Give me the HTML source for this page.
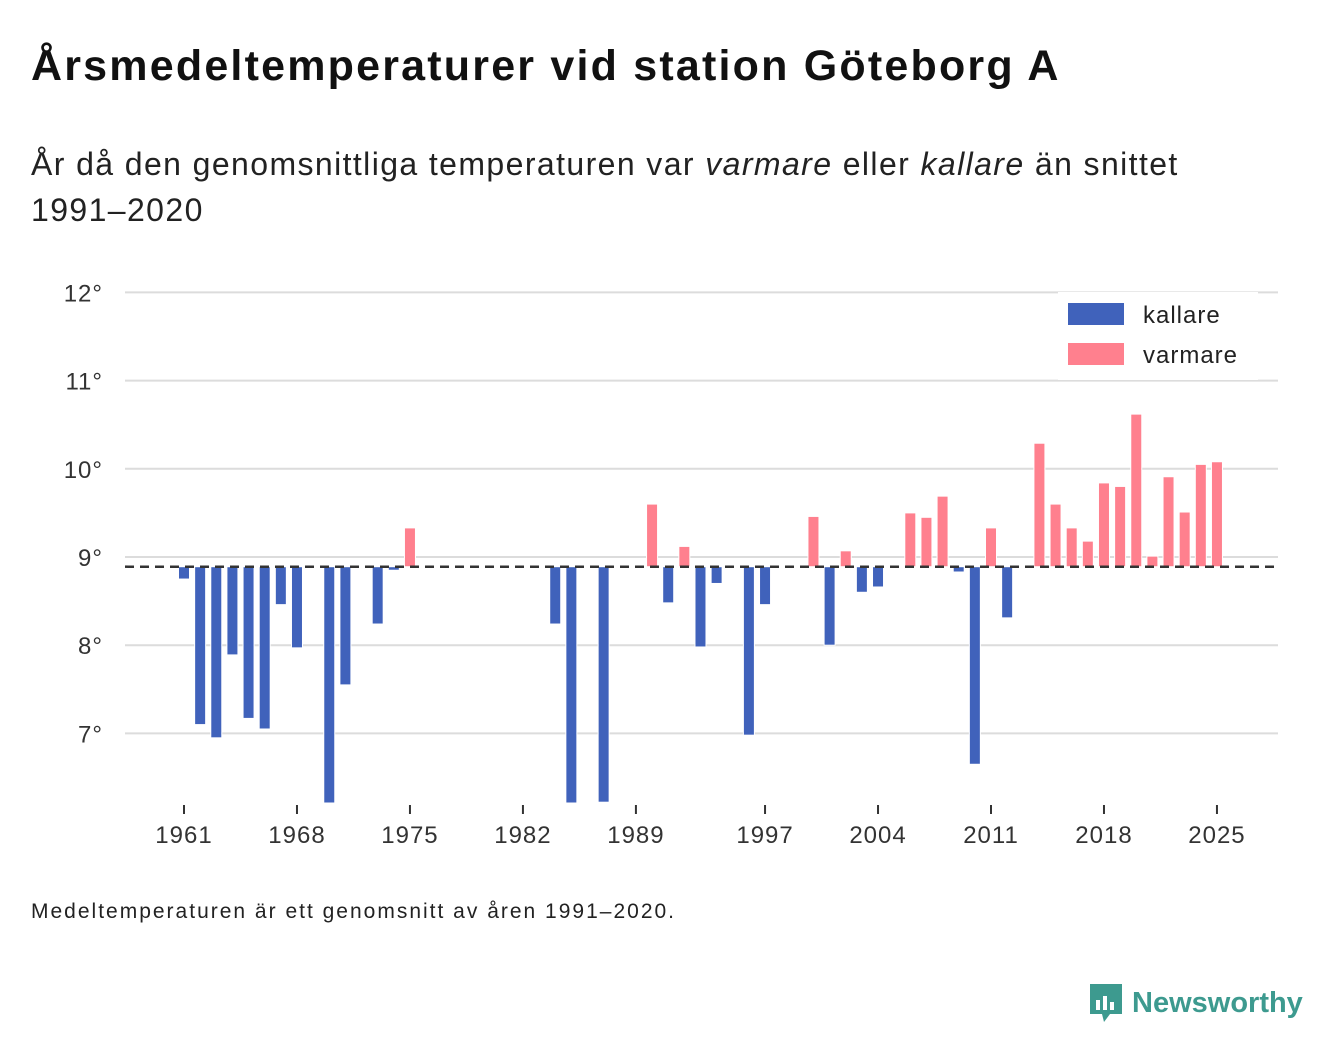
<!DOCTYPE html>
<html><head><meta charset="utf-8"><style>
body{margin:0;width:1340px;height:1056px;background:#fff;font-family:"Liberation Sans",sans-serif;color:#111;position:relative;overflow:hidden}
#title{position:absolute;left:31px;top:42px;font-size:43px;font-weight:bold;margin:0;letter-spacing:2.2px;white-space:nowrap}
#sub{position:absolute;left:31px;top:141px;font-size:32px;line-height:46px;width:1250px;color:#222;letter-spacing:1.4px;white-space:nowrap}
#note{position:absolute;left:31px;top:900px;font-size:21px;color:#222;letter-spacing:2px;white-space:nowrap}
#logo{position:absolute;left:1088px;top:982px;display:flex;align-items:center;gap:8px;color:#3d9a8f;font-size:29px;font-weight:bold}
svg{position:absolute;left:0;top:0}
</style></head><body>
<h1 id="title">Årsmedeltemperaturer vid station Göteborg A</h1>
<div id="sub">År då den genomsnittliga temperaturen var <i>varmare</i> eller <i>kallare</i> än snittet<br>1991–2020</div>
<div id="note">Medeltemperaturen är ett genomsnitt av åren 1991–2020.</div>
<div id="logo"><svg style="position:static" width="36" height="42" viewBox="0 0 36 42"><path d="M2 2h32v30H22l-6 8-2-8H2z" fill="#3d9a8f"/><rect x="8" y="18" width="4" height="10" fill="#fff"/><rect x="15" y="14" width="4" height="14" fill="#fff"/><rect x="22" y="20" width="4" height="8" fill="#fff"/></svg><span>Newsworthy</span></div>
<svg id="chart" width="1340" height="1056"></svg>
<script>
const years=[];for(let y=1961;y<=2025;y++)years.push(y);
const values=[8.75,7.10,6.95,7.89,7.17,7.05,8.46,7.97,null,6.2,7.55,null,8.24,8.85,9.33,
null,null,null,null,null,null,null,null,8.24,6.2,null,6.22,null,null,9.60,8.48,9.12,7.98,8.70,null,6.98,8.46,null,null,9.46,8.0,9.07,8.60,8.66,null,9.50,9.45,9.69,8.83,6.65,9.33,8.31,null,10.29,9.60,9.33,9.18,9.84,9.80,10.62,9.01,9.91,9.51,10.05,10.08];
const yTicks=[7,8,9,10,11,12];
const xTicks=[1961,1968,1975,1982,1989,1997,2004,2011,2018,2025];
const baseline=8.89;
const NS="http://www.w3.org/2000/svg",svg=document.getElementById('chart');
const X=y=>184+(y-1961)*16.14;
const Y=v=>557-(v-9)*88.2;
const bottom=803;
function el(t,a,p){const e=document.createElementNS(NS,t);for(const k in a)e.setAttribute(k,a[k]);(p||svg).appendChild(e);return e;}
yTicks.forEach(t=>{
 const g=el('line',{x1:125,x2:1278,y1:Y(t),y2:Y(t),stroke:'#dcdcdc','stroke-width':2});
 
 
 const tx=el('text',{x:103,y:Y(t)+9,'text-anchor':'end','font-size':24,fill:'#333','letter-spacing':1});tx.textContent=t+'°';
 
 
});
xTicks.forEach(t=>{
 const l=el('line',{x1:X(t),x2:X(t),y1:805,y2:814,stroke:'#333','stroke-width':2});
 
 
 const tx=el('text',{x:X(t),y:843,'text-anchor':'middle','font-size':24,fill:'#333','letter-spacing':1});tx.textContent=t;
 
 
});
years.forEach((yr,i)=>{
 const v=values[i];if(v==null)return;
 const yv=Math.min(Y(v),bottom),yb=Y(baseline);
 const r=el('rect',{x:X(yr)-5.5,y:Math.min(yv,yb),width:11,height:Math.abs(yv-yb),fill:v<baseline?'#4062bb':'#ff808e',stroke:'#fff','stroke-width':1});
 
 
});
const bl=el('line',{x1:125,x2:1280,y1:Y(baseline),y2:Y(baseline),stroke:'#333','stroke-width':2.5,'stroke-dasharray':'9 6'});


const lg=el('g',{});


el('rect',{x:1058,y:292,width:200,height:88,fill:'#fff'},lg);
[['kallare','#4062bb',314],['varmare','#ff808e',354]].forEach(([n,c,y])=>{
 const r=el('rect',{x:1068,y:y-11,width:56,height:22,fill:c},lg);
 
 
 const t=el('text',{x:1143,y:y+9,'font-size':24,fill:'#222','letter-spacing':1},lg);t.textContent=n;
 
 
});
</script>
</body></html>
